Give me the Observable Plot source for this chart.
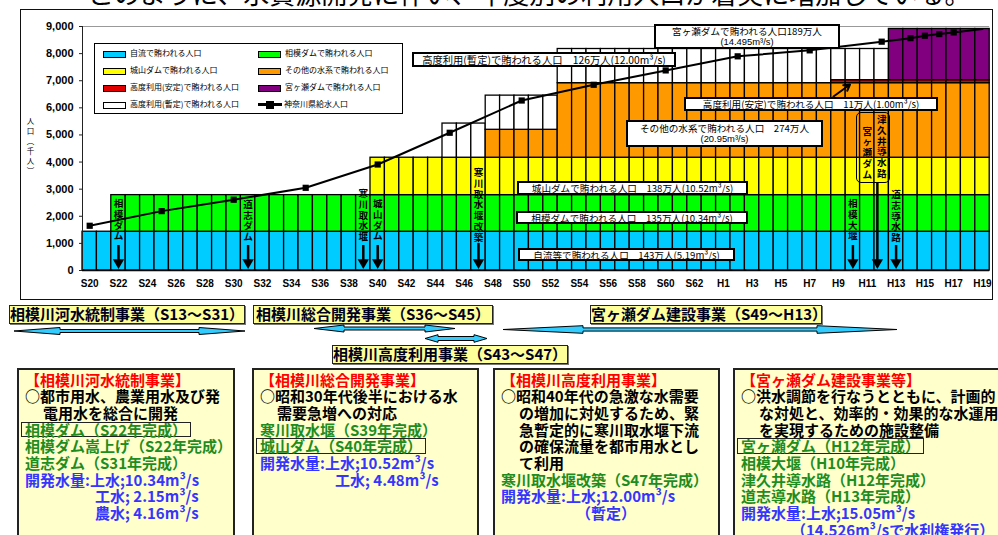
<!DOCTYPE html>
<html lang="ja"><head><meta charset="utf-8">
<script src="https://cdn.jsdelivr.net/npm/d3@7"></script>
<script src="https://cdn.jsdelivr.net/npm/@observablehq/plot@0.6"></script>
<style>
html,body{margin:0;padding:0;background:#fff;}
#page{position:relative;width:998px;height:535px;overflow:hidden;font-family:"Noto Sans CJK JP","Noto Sans",sans-serif;color:#000;}
#page > *{position:absolute;}
.lbl{background:#fff;border:2px solid #000;box-sizing:border-box;font-size:9.6px;line-height:10px;text-align:center;white-space:nowrap;display:flex;flex-direction:column;justify-content:center;align-items:center;overflow:visible;}
.lbl span{display:block;height:10px;line-height:10px;}
.lbl.two span{height:10.5px;line-height:10.5px;}
.lbl .lat{font-family:"Liberation Sans",Arial,sans-serif;font-size:9.4px;}
.leg{border:1px solid #000;background:#fff;box-sizing:border-box;}
.leg div{position:absolute;}
.sw{width:21px;height:5px;border:1px solid #000;}
.legt{font-size:8px;line-height:10px;white-space:nowrap;}
.proj{background:#ffff99;border:1.5px solid #222;box-sizing:border-box;font-weight:bold;font-size:15px;line-height:16px;text-align:center;white-space:nowrap;box-shadow:1px 1px 0 #777;color:#000022;}
.detail{background:#ffffcc;border:2px solid #222;box-sizing:border-box;padding:1.7px 0 0 6px;font-weight:bold;font-size:15px;white-space:nowrap;}
.detail .ln{height:16.67px;line-height:16.67px;}
.red{color:#ff0000}.grn{color:#1e8c1e}.blu{color:#3535ff}
.boxed{display:inline-block;border:1.5px solid #222;line-height:13.6px;padding:0 3px;margin-left:-4px;}
</style></head>
<body><div id="page"></div>
<script>
// ---------- DATA ----------
const yearLabels = ["S20","S21","S22","S23","S24","S25","S26","S27","S28","S29",
  "S30","S31","S32","S33","S34","S35","S36","S37","S38","S39",
  "S40","S41","S42","S43","S44","S45","S46","S47","S48","S49",
  "S50","S51","S52","S53","S54","S55","S56","S57","S58","S59",
  "S60","S61","S62","S63","H1","H2","H3","H4","H5","H6",
  "H7","H8","H9","H10","H11","H12","H13","H14","H15","H16",
  "H17","H18","H19"];
const xTickLabels = ["S20","S22","S24","S26","S28","S30","S32","S34","S36","S38","S40","S42","S44","S46","S48","S50","S52","S54","S56","S58","S60","S62","H1","H3","H5","H7","H9","H11","H13","H15","H17","H19"];
const yTicks = [0,1000,2000,3000,4000,5000,6000,7000,8000,9000];

// population served (thousand persons) by source, per year
const jiryu = [1430,1430,1430,1430,1430,1430,1430,1430,1430,1430,
  1430,1430,1430,1430,1430,1430,1430,1430,1430,1430,
  1430,1430,1430,1430,1430,1430,1430,1430,1430,1430,
  1430,1430,1430,1430,1430,1430,1430,1430,1430,1430,
  1430,1430,1430,1430,1430,1430,1430,1430,1430,1430,
  1430,1430,1430,1430,1430,1430,1430,1430,1430,1430,
  1430,1430,1430];
const sagamiDam = [0,0,1350,1350,1350,1350,1350,1350,1350,1350,
  1350,1350,1350,1350,1350,1350,1350,1350,1350,1350,
  1350,1350,1350,1350,1350,1350,1350,1350,1350,1350,
  1350,1350,1350,1350,1350,1350,1350,1350,1350,1350,
  1350,1350,1350,1350,1350,1350,1350,1350,1350,1350,
  1350,1350,1350,1350,1350,1350,1350,1350,1350,1350,
  1350,1350,1350];
const shiroyamaDam = [0,0,0,0,0,0,0,0,0,0,
  0,0,0,0,0,0,0,0,0,0,
  1380,1380,1380,1380,1380,1380,1380,1380,1380,1380,
  1380,1380,1380,1380,1380,1380,1380,1380,1380,1380,
  1380,1380,1380,1380,1380,1380,1380,1380,1380,1380,
  1380,1380,1380,1380,1380,1380,1380,1380,1380,1380,
  1380,1380,1380];
const sonota = [0,0,0,0,0,0,0,0,0,0,
  0,0,0,0,0,0,0,0,0,0,
  0,0,0,0,0,0,0,0,1030,1030,
  1030,1030,1030,2750,2750,2750,2750,2750,2750,2750,
  2750,2750,2750,2750,2750,2750,2750,2750,2750,2750,
  2750,2750,2750,2750,2750,2750,2750,2750,2750,2750,
  2750,2750,2750];
const kodoAntei = [0,0,0,0,0,0,0,0,0,0,
  0,0,0,0,0,0,0,0,0,0,
  0,0,0,0,0,0,0,0,0,0,
  0,0,0,0,0,0,0,0,0,0,
  0,0,0,0,0,0,0,0,0,0,
  0,0,110,110,110,110,110,110,110,110,
  110,110,110];
const kodoZantei = [0,0,0,0,0,0,0,0,0,0,
  0,0,0,0,0,0,0,0,0,0,
  0,0,0,0,0,1260,1260,1260,1260,1260,
  1260,1260,1260,1260,1260,1260,1260,1260,1260,1260,
  1260,1260,1260,1260,1260,1260,1260,1260,1260,1260,
  1260,1260,1150,1150,1150,1150,0,0,0,0,
  0,0,0];
const miyagaseDam = [0,0,0,0,0,0,0,0,0,0,
  0,0,0,0,0,0,0,0,0,0,
  0,0,0,0,0,0,0,0,0,0,
  0,0,0,0,0,0,0,0,0,0,
  0,0,0,0,0,0,0,0,0,0,
  0,0,0,0,0,0,1890,1890,1890,1890,
  1890,1890,1890];

// 神奈川県給水人口 (thousand persons)
const popYears = ["S20","S25","S30","S35","S40","S45","S50","S55","S60","H2","H7","H12","H14","H15","H16","H17","H19"];
const popValues = [1650,2190,2610,3050,3910,5080,6270,6850,7380,7900,8120,8440,8570,8660,8720,8780,8910];

const seriesNames = ["自流で賄われる人口","相模ダムで賄われる人口","城山ダムで賄われる人口","その他の水系で賄われる人口","高度利用(安定)で賄われる人口","高度利用(暫定)で賄われる人口","宮ヶ瀬ダムで賄われる人口"];
const seriesColors = ["#00ccff","#00ff00","#ffff00","#ff9900","#e00000","#ffffff","#800080"];
const seriesValues = [jiryu, sagamiDam, shiroyamaDam, sonota, kodoAntei, kodoZantei, miyagaseDam];
const lineName = "神奈川県給水人口";

// ---------- BUILD ----------
const idx = l => yearLabels.indexOf(l);
const stacked = [];
yearLabels.forEach((lab, i) => {
  let cum = 0;
  seriesValues.forEach((vals, s) => {
    const v = vals[i];
    if (v > 0) stacked.push({x1: i, x2: i + 1, y1: cum, y2: cum + v, series: seriesNames[s]});
    cum += v;
  });
});
const popData = popYears.map((y, k) => ({x: idx(y) + 0.5, v: popValues[k]}));

// facility annotations (vertical labels with arrows)
const facilityNotes = [
  {year: "S22", text: "相模ダム", top: 2620},
  {year: "S31", text: "道志ダム", top: 2590},
  {year: "S39", text: "寒川取水堰", top: 2990},
  {year: "S40", text: "城山ダム", top: 2620},
  {year: "S47", text: "寒川取水堰改築", top: 3760},
  {year: "H10", text: "相模大堰", top: 2620},
  {year: "H13", text: "道志導水路", top: 2950},
  {year: "H11", text: "宮ヶ瀬ダム", top: 5290},
  {year: "H12", text: "津久井導水路", top: 5720}
];
const arrowNotes = [
  {x: idx("S22") + 0.5, y1: 922, y2: 300},
  {x: idx("S31") + 0.5, y1: 922, y2: 300},
  {x: idx("S39") + 0.5, y1: 922, y2: 300},
  {x: idx("S40") + 0.5, y1: 922, y2: 300},
  {x: idx("S47") + 0.5, y1: 996, y2: 300},
  {x: idx("H10") + 0.5, y1: 922, y2: 300},
  {x: idx("H13") + 0.5, y1: 922, y2: 300},
  {x: 55.2, y1: 3209, y2: 300}
];

const chart = Plot.plot({
  width: 998, height: 300,
  marginLeft: 82, marginRight: 8.8, marginTop: 26, marginBottom: 30,
  style: {fontFamily: "'Liberation Sans', Arial, sans-serif", fontSize: "10px", background: "transparent", overflow: "visible"},
  x: {domain: [0, 63]},
  y: {domain: [0, 9000]},
  color: {domain: seriesNames, range: seriesColors},
  marks: [
    Plot.ruleY([9000], {stroke: "#999", strokeWidth: 1}),
    Plot.rect(stacked, {x1: "x1", x2: "x2", y1: "y1", y2: "y2", fill: "series", stroke: "#000", strokeWidth: 1.3}),
    Plot.ruleX([0], {y1: 0, y2: 9000, stroke: "#222", strokeWidth: 1}),
    Plot.ruleY([0], {stroke: "#000", strokeWidth: 1.3}),
    Plot.axisY(yTicks, {tickSize: 3, tickPadding: 6, tickFormat: d3.format(","), fontSize: 11, fontWeight: "bold", label: null, stroke: "#222"}),
    Plot.axisX(xTickLabels.map(l => idx(l) + 0.5), {tickSize: 0, tickPadding: 9, tickFormat: d => yearLabels[Math.floor(d)], fontSize: 10, fontWeight: "bold", label: null}),
    Plot.line(popData, {x: "x", y: "v", stroke: "#000", strokeWidth: 2}),
    Plot.dot(popData.slice(0, -1), {x: "x", y: "v", symbol: "square", r: 3.5, fill: "#000", stroke: "none"}),
    Plot.text(facilityNotes, {x: d => idx(d.year) + 0.5, y: "top", text: d => [...d.text].join("\n"), lineAnchor: "top", lineHeight: 1.12, fontSize: 9.6, fontWeight: "bold", fontFamily: "'Noto Sans CJK JP', sans-serif", fill: "#000"}),
    Plot.ruleX(arrowNotes, {x: "x", y1: "y1", y2: "y2", stroke: "#000", strokeWidth: 2.5}),
    Plot.dot(arrowNotes, {x: "x", y: 111, symbol: "triangle", rotate: 180, r: 4.2, fill: "#000", stroke: "none", dy: -5}),
    Plot.arrow([{x1: 52.15, y1: 6420, x2: 53.3, y2: 6860}], {x1: "x1", y1: "y1", x2: "x2", y2: "y2", stroke: "#000", strokeWidth: 2, headLength: 6})
  ]
});

const page = document.getElementById("page");
function el(tag, cls, style, html) {
  const e = document.createElement(tag);
  if (cls) e.className = cls;
  if (style) e.setAttribute("style", style);
  if (html != null) e.innerHTML = html;
  page.appendChild(e);
  return e;
}

// clipped heading at top (only the lower part of the glyphs is visible)
el("div", null, "left:88px;top:-20px;font-size:26px;line-height:26px;white-space:nowrap;", "このように、水資源開発に伴い、年度別の利用人口が着実に増加している。");
// chart frame
el("div", null, "left:20px;top:9px;width:973px;height:291px;border:1px solid #111;box-sizing:border-box;");
chart.style.left = "0px"; chart.style.top = "0px";
page.appendChild(chart);

// y label
el("div", null, "left:25px;top:117px;writing-mode:vertical-rl;font-size:7.5px;letter-spacing:2.6px;line-height:10px;", "人口（千人）");

// legend
const leg = el("div", "leg", "left:94px;top:43px;width:309px;height:71px;");
const legOrder = [0, 1, 2, 3, 4, 6, 5];
const legPos = [[8,6],[163,6],[8,23],[163,23],[8,40],[163,40],[8,57]];
legOrder.forEach((s, k) => {
  const [lx, ly] = legPos[k];
  const sw = document.createElement("div"); sw.className = "sw";
  sw.style.cssText = `left:${lx}px;top:${ly + 1}px;background:${seriesColors[s]};`;
  leg.appendChild(sw);
  const t = document.createElement("div"); t.className = "legt";
  t.style.cssText = `left:${lx + 27}px;top:${ly - 2}px;`;
  t.textContent = seriesNames[s];
  leg.appendChild(t);
});
{
  const ln = document.createElement("div");
  ln.style.cssText = "left:163px;top:59px;width:24px;height:3px;background:#000;";
  leg.appendChild(ln);
  const sq = document.createElement("div");
  sq.style.cssText = "left:171px;top:56.5px;width:8px;height:8px;background:#000;";
  leg.appendChild(sq);
  const t = document.createElement("div"); t.className = "legt";
  t.style.cssText = "left:189px;top:55px;";
  t.textContent = lineName;
  leg.appendChild(t);
}

// boxed labels in chart
const boxLabels = [
  {l:654, t:24, w:186, h:25, lines:["宮ヶ瀬ダムで賄われる人口189万人","(14.495m³/s)"]},
  {l:412, t:52, w:264, h:15, lines:["高度利用(暫定)で賄われる人口　126万人(12.00m³/s)"], fs:10.3},
  {l:684, t:97, w:254, h:14, lines:["高度利用(安定)で賄われる人口　11万人(1.00m³/s)"]},
  {l:626, t:120, w:197, h:27, lines:["その他の水系で賄われる人口　274万人","(20.95m³/s)"]},
  {l:517, t:181, w:231, h:14, lines:["城山ダムで賄われる人口　138万人(10.52m³/s)"]},
  {l:516, t:211, w:232, h:13, lines:["相模ダムで賄われる人口　135万人(10.34m³/s)"]},
  {l:518, t:248, w:217, h:13, lines:["自流等で賄われる人口　143万人(5.19m³/s)"]}
];
boxLabels.forEach(b => {
  el("div", "lbl" + (b.lines.length > 1 ? " two" : ""), `left:${b.l}px;top:${b.t}px;width:${b.w}px;height:${b.h}px;${b.fs ? "font-size:" + b.fs + "px;" : ""}`,
    b.lines.map((s, k) => `<span${k > 0 ? ' class="lat"' : ""}>${s}</span>`).join(""));
});
// group outline around 宮ヶ瀬ダム / 津久井導水路
el("div", null, "left:856px;top:112px;width:34px;height:71px;border:1px solid #000;border-radius:5px;box-sizing:border-box;");

// project titles
const projects = [
  {l:9, t:305, w:236, text:"相模川河水統制事業（S13〜S31）"},
  {l:253, t:305, w:240, text:"相模川総合開発事業（S36〜S45）"},
  {l:590, t:305, w:232, text:"宮ヶ瀬ダム建設事業（S49〜H13）"},
  {l:332, t:345, w:236, text:"相模川高度利用事業（S43〜S47）"}
];
projects.forEach(p => el("div", "proj", `left:${p.l}px;top:${p.t}px;width:${p.w}px;height:19px;`, p.text));

// double arrows showing project periods
const svgNS = "http://www.w3.org/2000/svg";
const arr = document.createElementNS(svgNS, "svg");
arr.setAttribute("width", 998); arr.setAttribute("height", 60);
arr.setAttribute("style", "left:0;top:310px;");
function dbl(x0, x1, y, L, h, s) {
  y -= 310;
  const pts = [[x0,y],[x0+L,y-h],[x0+L,y-s],[x1-L,y-s],[x1-L,y-h],[x1,y],[x1-L,y+h],[x1-L,y+s],[x0+L,y+s],[x0+L,y+h]];
  const p = document.createElementNS(svgNS, "polygon");
  p.setAttribute("points", pts.map(q => q.join(",")).join(" "));
  p.setAttribute("fill", "#33ccff"); p.setAttribute("stroke", "#000"); p.setAttribute("stroke-width", "1");
  arr.appendChild(p);
}
dbl(14, 245, 331, 46, 3.5, 1.5);
dbl(314, 455, 328.5, 30, 3.5, 1.5);
dbl(425, 487, 338.5, 13, 3.8, 2);
dbl(503, 897, 329.5, 80, 3.8, 1.6);
page.appendChild(arr);

// detail boxes
const details = [
  {l:17, w:218, lines:[
    ["red","【相模川河水統制事業】"],
    ["","○都市用水、農業用水及び発"],
    ["",'<span style="margin-left:18px">電用水を総合に開発</span>'],
    ["grn",'<span class="boxed">相模ダム（S22年完成）</span>'],
    ["grn","相模ダム嵩上げ（S22年完成）"],
    ["grn","道志ダム（S31年完成）"],
    ["blu","開発水量:上水;10.34m³/s"],
    ["blu",'<span style="margin-left:70px">工水; 2.15m³/s</span>'],
    ["blu",'<span style="margin-left:70px">農水; 4.16m³/s</span>']
  ]},
  {l:252, w:227, lines:[
    ["red","【相模川総合開発事業】"],
    ["","○昭和30年代後半における水"],
    ["",'<span style="margin-left:17px">需要急増への対応</span>'],
    ["grn","寒川取水堰（S39年完成）"],
    ["grn",'<span class="boxed">城山ダム（S40年完成）</span>'],
    ["blu","開発水量:上水;10.52m³/s"],
    ["blu",'<span style="margin-left:75px">工水; 4.48m³/s</span>']
  ]},
  {l:493, w:227, lines:[
    ["red","【相模川高度利用事業】"],
    ["","○昭和40年代の急激な水需要"],
    ["",'<span style="margin-left:18px">の増加に対処するため、緊</span>'],
    ["",'<span style="margin-left:18px">急暫定的に寒川取水堰下流</span>'],
    ["",'<span style="margin-left:18px">の確保流量を都市用水とし</span>'],
    ["",'<span style="margin-left:18px">て利用</span>'],
    ["grn","寒川取水堰改築（S47年完成）"],
    ["blu","開発水量:上水;12.00m³/s"],
    ["blu",'<span style="margin-left:75px">（暫定）</span>']
  ]},
  {l:733, w:290, lines:[
    ["red","【宮ヶ瀬ダム建設事業等】"],
    ["","○洪水調節を行なうとともに、計画的"],
    ["",'<span style="margin-left:18px">な対処と、効率的・効果的な水運用</span>'],
    ["",'<span style="margin-left:18px">を実現するための施設整備</span>'],
    ["grn",'<span class="boxed">宮ヶ瀬ダム（H12年完成）</span>'],
    ["grn","相模大堰（H10年完成）"],
    ["grn","津久井導水路（H12年完成）"],
    ["grn","道志導水路（H13年完成）"],
    ["blu","開発水量:上水;15.05m³/s"],
    ["blu",'<span style="margin-left:50px">（14.526m³/sで水利権発行）</span>']
  ]}
];
details.forEach(d => {
  el("div", "detail", `left:${d.l}px;top:368px;width:${d.w}px;height:200px;`,
    d.lines.map(([c, h]) => `<div class="ln ${c}">${h}</div>`).join(""));
});
</script>
</body></html>
